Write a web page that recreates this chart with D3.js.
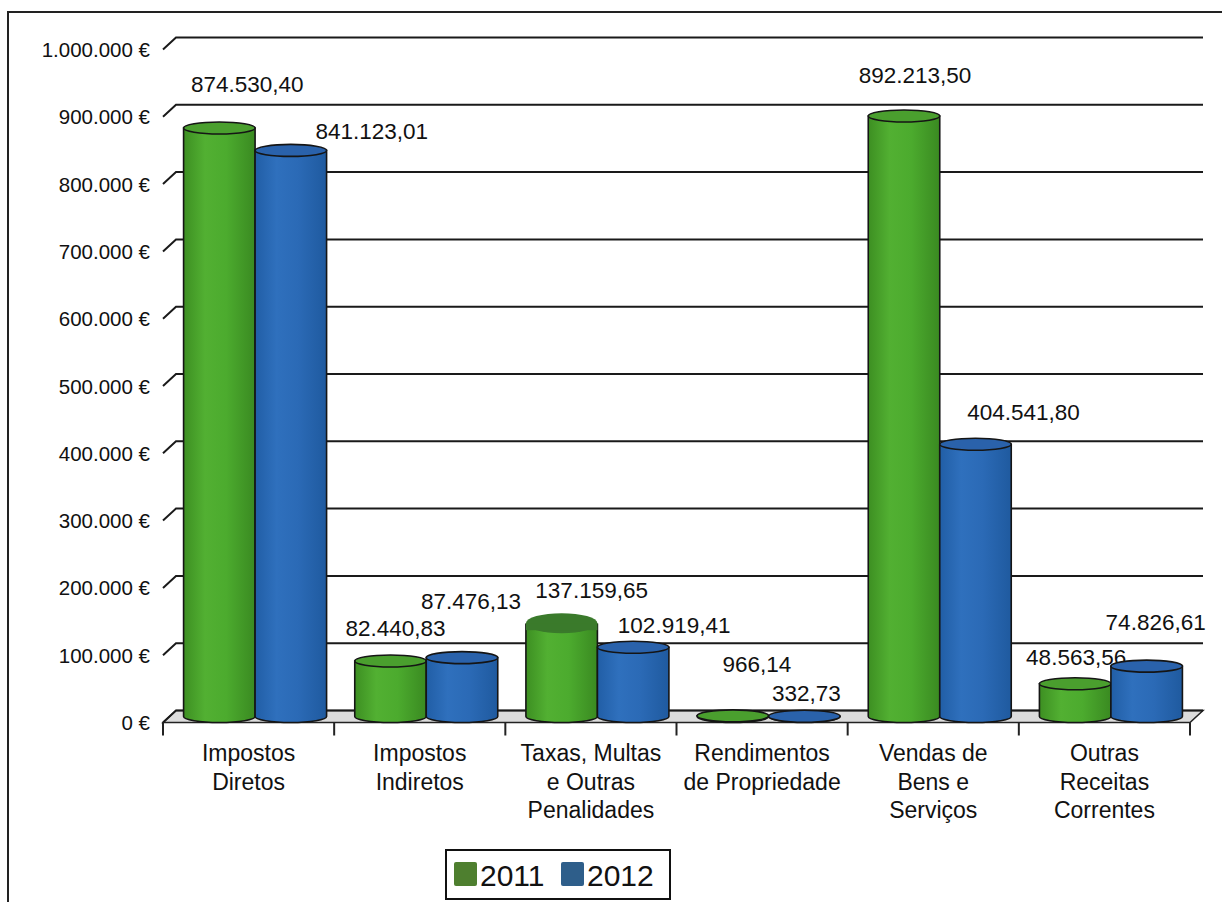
<!DOCTYPE html>
<html><head><meta charset="utf-8">
<script src="https://cdn.jsdelivr.net/npm/d3@7"></script>
<style>body{margin:0;background:#fff}svg{display:block}text{font-family:"Liberation Sans",Arial,sans-serif;fill:#111}</style>
</head><body>
<svg id="c" width="1222" height="902"></svg>
<script>
const categories = [
  ["Impostos","Diretos"],
  ["Impostos","Indiretos"],
  ["Taxas, Multas","e Outras","Penalidades"],
  ["Rendimentos","de Propriedade"],
  ["Vendas de","Bens e","Serviços"],
  ["Outras","Receitas","Correntes"]
];
const seriesNames = ["2011","2012"];
const values2011 = [874530.40, 82440.83, 137159.65, 966.14, 892213.50, 48563.56];
const values2012 = [841123.01, 87476.13, 102919.41, 332.73, 404541.80, 74826.61];
const yTicks = [0,100000,200000,300000,400000,500000,600000,700000,800000,900000,1000000];

// layout-only label nudges (Excel 3D label placement), [dx, dy] from cylinder top
const labelNudge2011 = [[28,-43],[5,-33],[30,-34],[24,-51],[11,-41],[1,-26]];
const labelNudge2012 = [[81,-19],[9,-56],[41,-22],[2,-23],[48,-32],[9,-44]];

const loc = d3.formatLocale({decimal:",", thousands:".", grouping:[3], currency:["","€"]});
const fVal = loc.format(",.2f"), fTick = loc.format(",.0f");

const svg = d3.select("#c");
const defs = svg.append("defs");
function grad(id, stops){
  const g = defs.append("linearGradient").attr("id",id).attr("x1","0").attr("x2","1").attr("y1","0").attr("y2","0");
  stops.forEach(s=>g.append("stop").attr("offset",s[0]).attr("stop-color",s[1]));
}
grad("g0",[["0","#3d8f22"],["0.3","#52b032"],["0.6","#4cab2e"],["1","#3a8a21"]]);
grad("g1",[["0","#215ea6"],["0.3","#2f70bd"],["0.6","#2b6ab6"],["1","#1f5a9f"]]);
const topFill = ["#4a9f2e","#2a62ab"];
const legendFill = ["#4e7f2f","#2e5e8a"];

// frame
svg.append("path").attr("d","M8,902 L8,12 L1222,12").attr("fill","none").attr("stroke","#222").attr("stroke-width",2);

const X0 = 163, X1 = 1190, DX = 13, DY = 12;
const x = d3.scaleBand().domain(d3.range(categories.length)).range([X0, X1]);
const y = d3.scaleLinear().domain([0,1000000]).range([716.5, 43.5]);
const bw = x.bandwidth();
const r = 35.75, ry = 6;

// floor
const yf = y(0)+DY/2, yb = y(0)-DY/2;
svg.append("path").attr("d",`M${X0},${yf} L${X0+DX},${yb} L${X1+DX},${yb} L${X1},${yf} Z`)
  .attr("fill","#dcdcdc").attr("stroke","#222").attr("stroke-width",1.5);

// gridlines + y labels
yTicks.forEach(t=>{
  const f = y(t)+DY/2, b = y(t)-DY/2;
  svg.append("path").attr("d",`M${X0},${f} L${X0+DX},${b} L${X1+DX},${b}`)
    .attr("fill","none").attr("stroke","#1a1a1a").attr("stroke-width",2);
  svg.append("text").attr("x",150).attr("y",f).attr("text-anchor","end").attr("dominant-baseline","central")
    .attr("font-size",20.5).text(fTick(t)+" €");
});
// category axis ticks
d3.range(categories.length+1).forEach(i=>{
  const xx = i<categories.length ? x(i) : X1;
  svg.append("line").attr("x1",xx).attr("x2",xx).attr("y1",yf).attr("y2",yf+13).attr("stroke","#222").attr("stroke-width",2);
});
// category labels
categories.forEach((c,i)=>{
  const t = svg.append("text").attr("text-anchor","middle").attr("font-size",23);
  c.forEach((line,k)=>t.append("tspan").attr("x",x(i)+bw/2).attr("y",761+k*28.5).text(line));
});

// cylinders
const series = [values2011, values2012];
const nudges = [labelNudge2011, labelNudge2012];
categories.forEach((c,i)=>{
  series.forEach((vals,s)=>{
    const v = vals[i];
    const cx = x(i) + bw/2 + DX/2 + (s===0 ? -r : r);
    const yt = y(v), ybot = y(0);
    const g = svg.append("g");
    g.append("path").attr("d",`M${cx-r},${yt} L${cx-r},${ybot} A${r},${ry} 0 0 0 ${cx+r},${ybot} L${cx+r},${yt} Z`)
      .attr("fill",`url(#g${s})`).attr("stroke","#151515").attr("stroke-width",1.6);
    if (i===2 && s===0) {
      g.append("ellipse").attr("cx",cx).attr("cy",yt-1).attr("rx",r).attr("ry",10).attr("fill","#3a7a2b");
      g.append("rect").attr("x",cx-r).attr("y",yt-1).attr("width",2*r).attr("height",7).attr("fill","#3a7a2b");
    } else {
      g.append("ellipse").attr("cx",cx).attr("cy",yt).attr("rx",r).attr("ry",ry)
        .attr("fill",topFill[s]).attr("stroke","#151515").attr("stroke-width",1.6);
    }
    const n = nudges[s][i];
    svg.append("text").attr("x",cx+n[0]).attr("y",yt+n[1]).attr("text-anchor","middle").attr("dominant-baseline","central")
      .attr("font-size",22.5).text(fVal(v));
  });
});

// legend
const lg = svg.append("g");
lg.append("rect").attr("x",446).attr("y",850).attr("width",224).attr("height",49).attr("fill","#fff").attr("stroke","#111").attr("stroke-width",2);
seriesNames.forEach((nm,s)=>{
  const lx = 454 + s*107;
  lg.append("rect").attr("x",lx).attr("y",862).attr("width",23).attr("height",24).attr("rx",2).attr("fill",legendFill[s]);
  lg.append("text").attr("x",lx+26).attr("y",875).attr("dominant-baseline","central").attr("font-size",30).text(nm);
});
</script>
</body></html>
